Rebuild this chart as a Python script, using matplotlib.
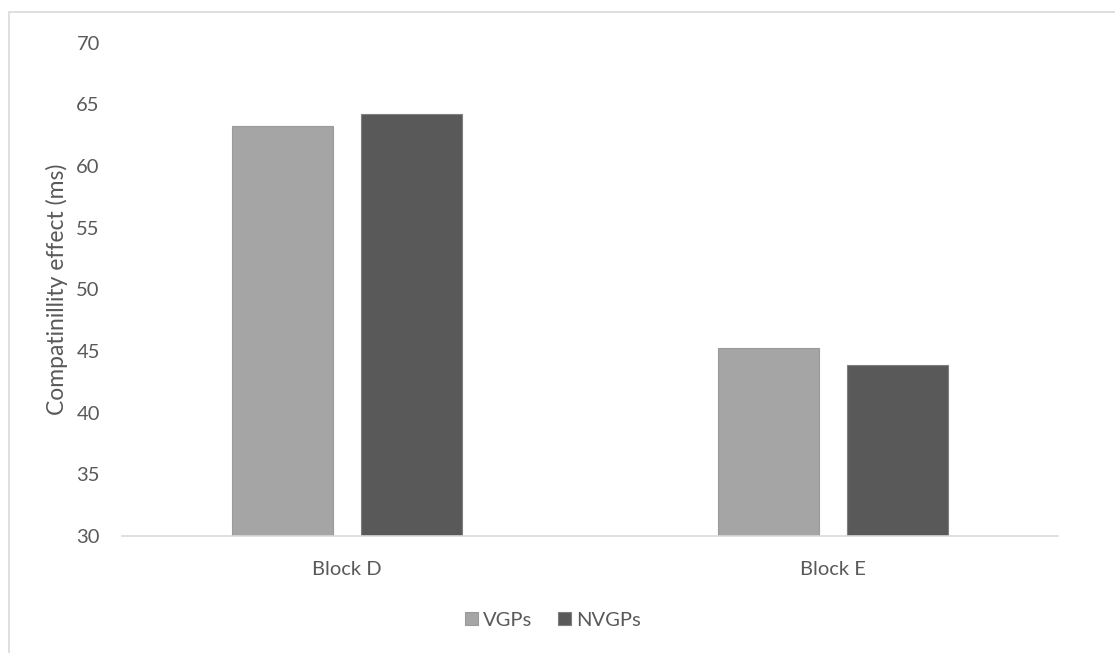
import numpy as np
import matplotlib.pyplot as plt
from matplotlib.patches import Rectangle

# Compatibility effect per block and group
blocks = ['Block D', 'Block E']
vgps = [63.2, 45.2]
nvgps = [64.2, 43.9]
series_names = ['VGPs', 'NVGPs']
y_ticks = [30, 35, 40, 45, 50, 55, 60, 65, 70]

plt.rcParams['font.family'] = ['Lato', 'DejaVu Sans']
text_col = '#595959'
grid_col = '#d9d9d9'

fig = plt.figure(figsize=(11.15, 6.53), dpi=100)
W, H = 1115, 653
ax = fig.add_axes([122 / W, 1 - 536 / H, 936 / W, (536 - 42.5) / H])

x = np.arange(len(blocks))
width = 0.209
offset = 0.1327
ax.bar(x - offset, vgps, width, bottom=0, color='#a5a5a5', edgecolor='#9a9a9a',
       linewidth=0.8, label=series_names[0])
ax.bar(x + offset, nvgps, width, bottom=0, color='#595959', edgecolor='#7f7f7f',
       linewidth=0.8, label=series_names[1])

ax.set_ylim(30, 70)
ax.set_xlim(-0.463, 1.463)
ax.set_yticks(y_ticks)
ax.set_xticks(x)
ax.set_xticklabels(blocks)
ax.tick_params(axis='both', length=0, colors=text_col, labelsize=14.5)
ax.tick_params(axis='x', pad=18)
ax.tick_params(axis='y', pad=16)
for side in ['top', 'right', 'left']:
    ax.spines[side].set_visible(False)
ax.spines['bottom'].set_color(grid_col)
ax.spines['bottom'].set_linewidth(1.2)

ax.set_ylabel('Compatinillity effect (ms)', color=text_col, fontsize=16.5,
              va='center')
ax.yaxis.set_label_coords((57 - 122) / 936, 0.5)

leg = fig.legend(loc='center', bbox_to_anchor=(553 / W, 1 - 620 / H), ncol=2,
                 frameon=False, fontsize=14.5, handlelength=0.65, handleheight=0.65,
                 handletextpad=0.25, columnspacing=1.3, labelcolor=text_col)

# light border around the chart area
fig.patches.append(Rectangle((9 / W, -0.05), 1.1, 1 - 12 / H + 0.05,
                             transform=fig.transFigure, fill=False,
                             edgecolor=grid_col, linewidth=1.2))

fig.savefig('out.png', dpi=100)
